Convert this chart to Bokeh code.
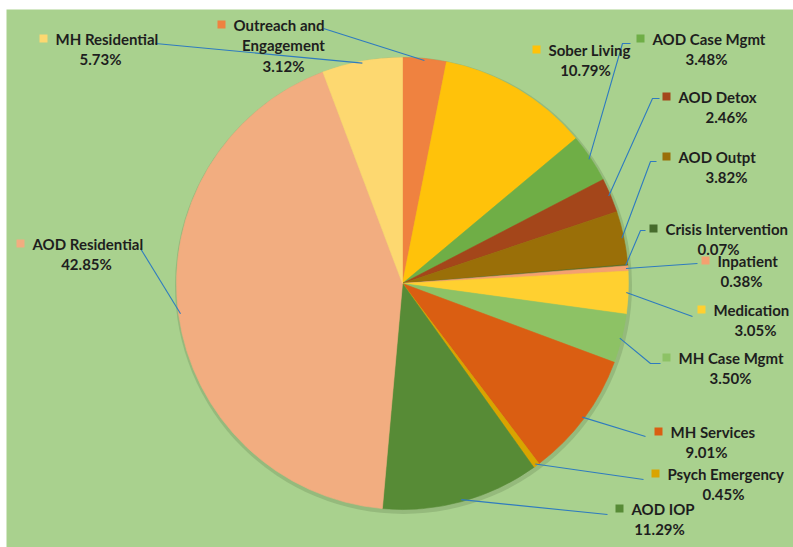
import numpy as np
from bokeh.plotting import figure
from bokeh.models import Range1d, ColumnDataSource
from bokeh.embed import file_html
from bokeh.resources import INLINE
from bokeh.core.properties import value

# ---------------- data ----------------
categories = ["Outreach and Engagement", "Sober Living", "AOD Case Mgmt", "AOD Detox",
              "AOD Outpt", "Crisis Intervention", "Inpatient", "Medication",
              "MH Case Mgmt", "MH Services", "Psych Emergency", "AOD IOP",
              "AOD Residential", "MH Residential"]
shares = [3.12, 10.79, 3.48, 2.46, 3.82, 0.07, 0.38, 3.05, 3.50, 9.01, 0.45, 11.29,
          42.85, 5.73]
colors = ["#EF8240", "#FFC20A", "#6FAE46", "#A4461A", "#9A6F08", "#466B2C", "#F4A070",
          "#FFD030", "#8DC265", "#DA5E12", "#D9A400", "#578B36", "#F2AD80", "#FDD870"]
display_names = ["Outreach and\nEngagement"] + categories[1:]

# ---------------- layout (image pixel coordinates) ----------------
W, H = 793, 547
LEFT, TOP = 6, 9          # white strip at left and top
def Y(v):
    return H - v          # data y from image y

CX, CY, R = 402, 283, 226

# label: (text left x, first line y, centre x of following lines)
label_pos = [(233, 24, 283), (548, 49, 585), (652, 38, 706), (678, 96, 726),
             (678, 156, 726), (665, 228, 718), (717, 260, 741), (713, 309, 755),
             (678, 357, 730), (670, 431, 706), (667, 473, 723), (631, 508, 659),
             (32, 243, 86), (55, 38, 100)]
# leader line points on the label side (image coords), None = no leader line
label_hooks = [[(323, 28)], None, [(630, 43), (622, 43)], [(659, 98), (652, 98)],
               [(656, 161), (650, 161)], [(645, 230), (640, 230)], [(697, 263)],
               [(692, 316)], [(660, 363), (650, 363)], [(645, 436)], [(643, 479)],
               [(607, 514)], [(140, 248)], [(155, 43)]]

p = figure(width=W, height=H, output_backend="svg", toolbar_location=None,
           x_range=Range1d(LEFT, W), y_range=Range1d(0, H - TOP),
           min_border=0, min_border_left=LEFT, min_border_top=TOP,
           outline_line_color=None)
p.axis.visible = False
p.grid.visible = False
p.background_fill_color = "#A9D18E"
p.border_fill_color = "white"

# ---------------- pie ----------------
frac = np.array(shares) / sum(shares)
cum = np.concatenate([[0], np.cumsum(frac)])
start = np.pi / 2 - 2 * np.pi * cum[:-1]
end = np.pi / 2 - 2 * np.pi * cum[1:]
mid = (start + end) / 2

# soft shadow around the pie
p.scatter(x=[CX + 1], y=[Y(CY) - 2], size=2 * R + 5, marker="circle",
          fill_color="#6F8F5C", fill_alpha=0.35, line_color=None)

src = ColumnDataSource(dict(start=start, end=end, color=colors, cat=categories))
p.wedge(x=CX, y=Y(CY), radius=R, start_angle="start", end_angle="end",
        direction="clock", fill_color="color", line_color="color",
        line_width=0.6, source=src)

# ---------------- leader lines ----------------
xs, ys = [], []
for i, hook in enumerate(label_hooks):
    if hook is None:
        continue
    px = CX + (R - 2) * np.cos(mid[i])
    py = Y(CY) + (R - 2) * np.sin(mid[i])
    xs.append([h[0] for h in hook] + [px])
    ys.append([Y(h[1]) for h in hook] + [py])
p.multi_line(xs=xs, ys=ys, line_color="#2F7BBF", line_width=1.1)

# ---------------- labels ----------------
font = value("Lato")
FS = "15px"
mx, my, mc = [], [], []
for i, name in enumerate(display_names):
    tl, y1, pcx = label_pos[i]
    lines = name.split("\n")
    mx.append(tl - 12)
    my.append(Y(y1))
    mc.append(colors[i])
    p.text(x=[tl], y=[Y(y1)], text=[lines[0]], text_font=font, text_font_style="bold",
           text_font_size=FS, text_align="left", text_baseline="middle",
           text_color="#1E1E1E")
    yy = y1
    for extra in lines[1:]:
        yy += 20.5
        p.text(x=[pcx], y=[Y(yy)], text=[extra], text_font=font, text_font_style="bold",
               text_font_size=FS, text_align="center", text_baseline="middle",
               text_color="#1E1E1E")
    yy += 20.5
    p.text(x=[pcx], y=[Y(yy)], text=[f"{shares[i]:.2f}%"], text_font=font,
           text_font_style="bold", text_font_size=FS, text_align="center",
           text_baseline="middle", text_color="#1E1E1E")

p.scatter(x=mx, y=my, marker="square", size=8, fill_color=mc, line_color=None)

open("out.html", "w").write(file_html(p, INLINE))
